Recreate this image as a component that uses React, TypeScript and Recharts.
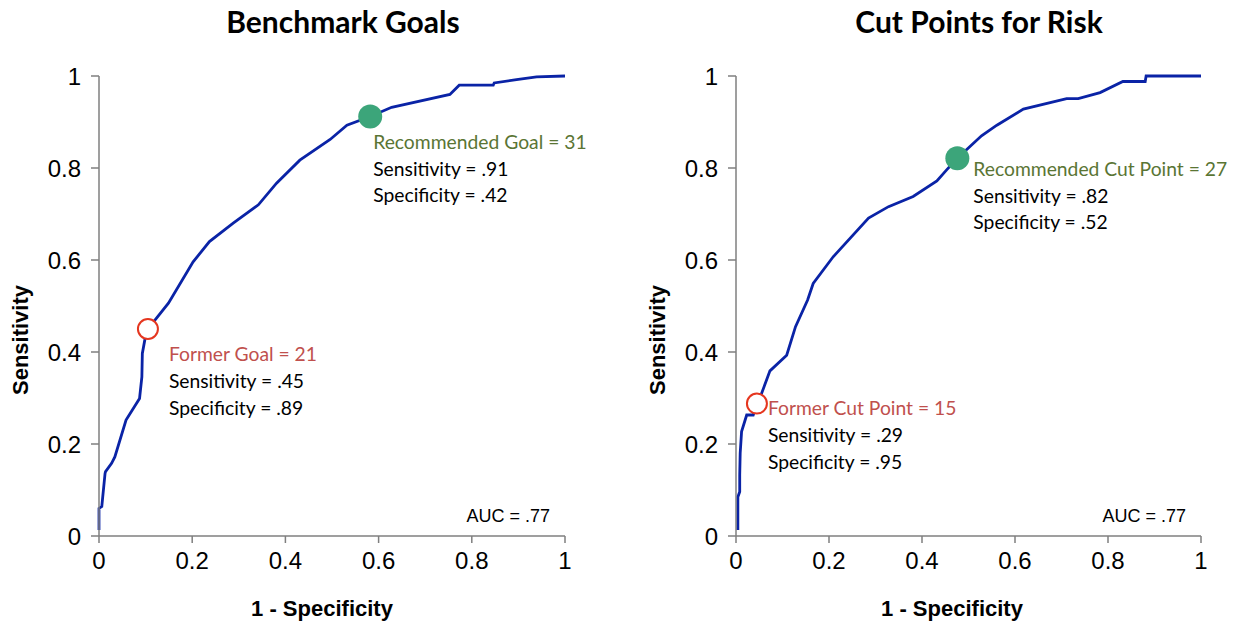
import React from 'react';
import { LineChart, Line, XAxis, YAxis, ReferenceDot } from 'recharts';

// ---- Data ----
const axisTicks = [0, 0.2, 0.4, 0.6, 0.8, 1];

const benchX = [0, 0, 0.006, 0.008, 0.013, 0.014, 0.027, 0.034, 0.058, 0.087, 0.092, 0.093, 0.099, 0.105, 0.149, 0.202, 0.237, 0.288, 0.342, 0.381, 0.431, 0.496, 0.532, 0.582, 0.628, 0.753, 0.773, 0.846, 0.848, 0.896, 0.939, 1];
const benchY = [0.013, 0.06, 0.064, 0.085, 0.136, 0.14, 0.158, 0.172, 0.252, 0.299, 0.346, 0.397, 0.43, 0.45, 0.506, 0.596, 0.64, 0.68, 0.72, 0.767, 0.817, 0.862, 0.893, 0.912, 0.932, 0.96, 0.98, 0.98, 0.985, 0.992, 0.998, 1];

const riskX = [0.004, 0.004, 0.008, 0.008, 0.009, 0.012, 0.023, 0.037, 0.045, 0.054, 0.073, 0.109, 0.128, 0.154, 0.166, 0.209, 0.285, 0.328, 0.381, 0.432, 0.453, 0.476, 0.528, 0.561, 0.618, 0.711, 0.736, 0.783, 0.832, 0.88, 0.882, 1];
const riskY = [0.013, 0.085, 0.096, 0.133, 0.18, 0.227, 0.263, 0.263, 0.288, 0.307, 0.359, 0.393, 0.455, 0.513, 0.549, 0.607, 0.691, 0.716, 0.738, 0.772, 0.796, 0.821, 0.87, 0.893, 0.928, 0.951, 0.951, 0.964, 0.988, 0.988, 1, 1];

const benchRecommended = { x: 0.582, y: 0.912 };
const benchFormer = { x: 0.105, y: 0.45 };
const riskRecommended = { x: 0.476, y: 0.821 };
const riskFormer = { x: 0.045, y: 0.288 };

const benchRecLines = ['Recommended Goal = 31', 'Sensitivity = .91', 'Specificity = .42'];
const benchFormerLines = ['Former Goal = 21', 'Sensitivity = .45', 'Specificity = .89'];
const riskRecLines = ['Recommended Cut Point = 27', 'Sensitivity = .82', 'Specificity = .52'];
const riskFormerLines = ['Former Cut Point = 15', 'Sensitivity = .29', 'Specificity = .95'];

const aucText = 'AUC = .77';
const titles = ['Benchmark Goals', 'Cut Points for Risk'];
const xTitle = '1 - Specificity';
const yTitle = 'Sensitivity';

// ---- Styles ----
const LINE_COLOR = '#0A23A6';
const GREEN_DOT = '#3CA57A';
const RED_RING = '#E5361F';
const REC_TEXT = '#5A7534';
const FORMER_TEXT = '#C0504D';
const ARIAL = '"Liberation Sans", Arial, sans-serif';
const CALIBRI = 'Lato, "Open Sans", sans-serif';

const toRows = (xs: number[], ys: number[]) => xs.map((x, i) => ({ x, y: ys[i] }));

function AnnotLabel(props: any) {
  const { viewBox, lines, dx, dy, headColor, spacing } = props;
  if (!viewBox) return null;
  const cx = viewBox.x + (viewBox.width || 0) / 2;
  const cy = viewBox.y + (viewBox.height || 0) / 2;
  return (
    <g>
      {lines.map((t: string, i: number) => (
        <text
          key={i}
          x={cx + dx}
          y={cy + dy + i * spacing}
          fill={i === 0 ? headColor : '#000'}
          fontFamily={CALIBRI}
          fontSize={19.3}
          dominantBaseline="central"
        >
          {t}
        </text>
      ))}
    </g>
  );
}

function AucLabel(props: any) {
  const { viewBox } = props;
  if (!viewBox) return null;
  const cx = viewBox.x + (viewBox.width || 0) / 2;
  const cy = viewBox.y + (viewBox.height || 0) / 2;
  return (
    <text x={cx - 15} y={cy - 20} textAnchor="end" dominantBaseline="central" fontFamily={ARIAL} fontSize={18} fill="#000">
      {aucText}
    </text>
  );
}

type PanelProps = {
  rows: { x: number; y: number }[];
  rec: { x: number; y: number };
  former: { x: number; y: number };
  recLines: string[];
  formerLines: string[];
  recOff: [number, number];
  formerOff: [number, number];
  width: number;
  marginLeft: number;
  marginRight: number;
};

function Panel(p: PanelProps) {
  const tickStyle = { fill: '#000', fontSize: 24, fontFamily: ARIAL };
  return (
    <LineChart
      width={p.width}
      height={623}
      data={p.rows}
      margin={{ top: 76, right: p.marginRight, bottom: 27, left: p.marginLeft }}
    >
      <XAxis
        type="number"
        dataKey="x"
        domain={[0, 1]}
        ticks={axisTicks}
        interval={0}
        height={60}
        tick={tickStyle}
        tickSize={7}
        tickMargin={9}
        axisLine={{ stroke: '#7F7F7F', strokeWidth: 1.5 }}
        tickLine={{ stroke: '#7F7F7F', strokeWidth: 1.5 }}
      />
      <YAxis
        type="number"
        dataKey="y"
        domain={[0, 1]}
        ticks={axisTicks}
        interval={0}
        width={60}
        tick={tickStyle}
        tickSize={8}
        tickMargin={10}
        axisLine={{ stroke: '#7F7F7F', strokeWidth: 1.5 }}
        tickLine={{ stroke: '#7F7F7F', strokeWidth: 1.5 }}
      />
      <Line
        type="linear"
        dataKey="y"
        stroke={LINE_COLOR}
        strokeWidth={2.8}
        dot={false}
        activeDot={false}
        isAnimationActive={false}
      />
      <ReferenceDot
        x={p.rec.x}
        y={p.rec.y}
        r={12}
        fill={GREEN_DOT}
        stroke="none"
        label={<AnnotLabel lines={p.recLines} dx={p.recOff[0]} dy={p.recOff[1]} headColor={REC_TEXT} spacing={26.7} />}
      />
      <ReferenceDot
        x={p.former.x}
        y={p.former.y}
        r={10}
        fill="#fff"
        stroke={RED_RING}
        strokeWidth={2}
        label={<AnnotLabel lines={p.formerLines} dx={p.formerOff[0]} dy={p.formerOff[1]} headColor={FORMER_TEXT} spacing={27} />}
      />
      <ReferenceDot x={1} y={0} r={0} fill="none" stroke="none" label={<AucLabel />} />
    </LineChart>
  );
}

export default function App() {
  const benchRows = toRows(benchX, benchY);
  const riskRows = toRows(riskX, riskY);
  return (
    <div style={{ position: 'absolute', left: 0, top: 0, width: 1237, height: 623, background: '#fff', overflow: 'hidden' }}>
      <div style={{ position: 'absolute', left: 0, top: 0 }}>
        <Panel
          rows={benchRows}
          rec={benchRecommended}
          former={benchFormer}
          recLines={benchRecLines}
          formerLines={benchFormerLines}
          recOff={[3, 25]}
          formerOff={[21, 24]}
          width={620}
          marginLeft={39}
          marginRight={55}
        />
      </div>
      <div style={{ position: 'absolute', left: 620, top: 0 }}>
        <Panel
          rows={riskRows}
          rec={riskRecommended}
          former={riskFormer}
          recLines={riskRecLines}
          formerLines={riskFormerLines}
          recOff={[16, 10]}
          formerOff={[11, 4]}
          width={617}
          marginLeft={56}
          marginRight={36}
        />
      </div>
      <svg width={1237} height={623} style={{ position: 'absolute', left: 0, top: 0, pointerEvents: 'none' }}>
        <text x={343} y={21} textAnchor="middle" dominantBaseline="central" fontFamily={CALIBRI} fontWeight="bold" fontSize={30}>{titles[0]}</text>
        <text x={979} y={21} textAnchor="middle" dominantBaseline="central" fontFamily={CALIBRI} fontWeight="bold" fontSize={30}>{titles[1]}</text>
        <text x={322} y={608} textAnchor="middle" dominantBaseline="central" fontFamily={ARIAL} fontWeight="bold" fontSize={22}>{xTitle}</text>
        <text x={952} y={608} textAnchor="middle" dominantBaseline="central" fontFamily={ARIAL} fontWeight="bold" fontSize={22}>{xTitle}</text>
        <text transform="translate(20,340) rotate(-90)" textAnchor="middle" dominantBaseline="central" fontFamily={ARIAL} fontWeight="bold" fontSize={22}>{yTitle}</text>
        <text transform="translate(657,340) rotate(-90)" textAnchor="middle" dominantBaseline="central" fontFamily={ARIAL} fontWeight="bold" fontSize={22}>{yTitle}</text>
      </svg>
    </div>
  );
}
